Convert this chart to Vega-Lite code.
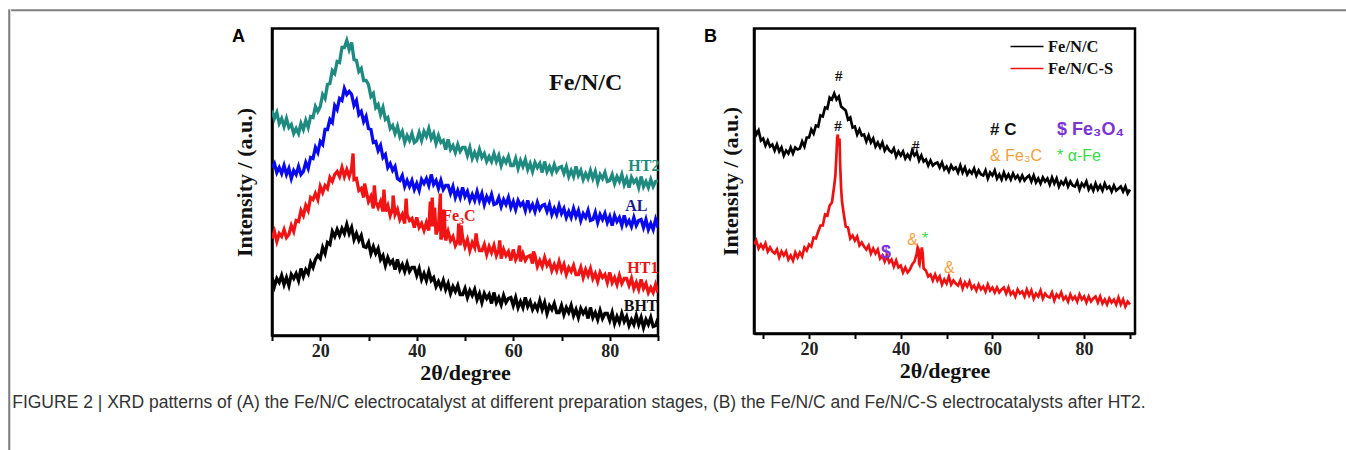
{
"$schema": "https://vega.github.io/schema/vega-lite/v6.json",
"background": "white",
"padding": {"left": 8, "top": 9, "right": 0, "bottom": 0},
"spacing": 0,
"resolve": {"scale": {"color": "independent"}},
"config": {
  "view": {"stroke": "#000000", "strokeWidth": 2.5},
  "axis": {"grid": false, "domainColor": "#000000", "domainWidth": 2.5, "tickColor": "#000000", "tickWidth": 2, "tickSize": 5,
    "labelFont": "Liberation Serif", "labelFontSize": 18, "labelFontWeight": "bold", "labelColor": "#222222",
    "titleFont": "Liberation Serif", "titleFontSize": 22, "titleFontWeight": "bold", "titleColor": "#111111"},
  "text": {"font": "Liberation Serif", "fontWeight": "bold", "baseline": "middle"}
},
"datasets": {
"A": [
{"x":10,"HT2":225,"AL":168,"HT1":97,"BHT":58},
{"x":10.5,"HT2":217,"AL":172,"HT1":104,"BHT":49},
{"x":11,"HT2":223,"AL":163,"HT1":94,"BHT":57},
{"x":11.5,"HT2":212,"AL":168,"HT1":102,"BHT":53},
{"x":12,"HT2":217,"AL":162,"HT1":99,"BHT":60},
{"x":12.5,"HT2":209,"AL":170,"HT1":106,"BHT":51},
{"x":13,"HT2":217,"AL":161,"HT1":98,"BHT":58},
{"x":13.5,"HT2":208,"AL":167,"HT1":101,"BHT":50},
{"x":14,"HT2":211,"AL":157,"HT1":110,"BHT":61},
{"x":14.5,"HT2":202,"AL":165,"HT1":104,"BHT":57},
{"x":15,"HT2":207,"AL":161,"HT1":115,"BHT":62},
{"x":15.5,"HT2":202,"AL":169,"HT1":114,"BHT":55},
{"x":16,"HT2":212,"AL":161,"HT1":125,"BHT":67},
{"x":16.5,"HT2":206,"AL":164,"HT1":120,"BHT":59},
{"x":17,"HT2":215,"AL":173,"HT1":130,"BHT":66},
{"x":17.5,"HT2":208,"AL":167,"HT1":125,"BHT":62},
{"x":18,"HT2":219,"AL":178,"HT1":138,"BHT":73},
{"x":18.5,"HT2":218,"AL":177,"HT1":136,"BHT":68},
{"x":19,"HT2":229,"AL":188,"HT1":142,"BHT":76},
{"x":19.5,"HT2":224,"AL":183,"HT1":136,"BHT":80},
{"x":20,"HT2":229,"AL":194,"HT1":149,"BHT":77},
{"x":20.5,"HT2":241,"AL":191,"HT1":143,"BHT":88},
{"x":21,"HT2":237,"AL":206,"HT1":150,"BHT":82},
{"x":21.5,"HT2":251,"AL":206,"HT1":147,"BHT":93},
{"x":22,"HT2":252,"AL":216,"HT1":158,"BHT":91},
{"x":22.5,"HT2":265,"AL":213,"HT1":154,"BHT":104},
{"x":23,"HT2":262,"AL":230,"HT1":161,"BHT":99},
{"x":23.5,"HT2":274,"AL":226,"HT1":164,"BHT":106},
{"x":24,"HT2":273,"AL":237,"HT1":159,"BHT":100},
{"x":24.5,"HT2":288,"AL":235,"HT1":168,"BHT":107},
{"x":25,"HT2":288,"AL":247,"HT1":159,"BHT":102},
{"x":25.5,"HT2":295,"AL":241,"HT1":166,"BHT":111},
{"x":26,"HT2":286,"AL":244,"HT1":159,"BHT":102},
{"x":26.5,"HT2":293,"AL":241,"HT1":167,"BHT":108},
{"x":27,"HT2":276,"AL":230,"HT1":156,"BHT":96},
{"x":27.5,"HT2":275,"AL":235,"HT1":157,"BHT":102},
{"x":28,"HT2":264,"AL":221,"HT1":145,"BHT":95},
{"x":28.5,"HT2":267,"AL":224,"HT1":147,"BHT":100},
{"x":29,"HT2":255,"AL":214,"HT1":138,"BHT":89},
{"x":29.5,"HT2":255,"AL":219,"HT1":145,"BHT":88},
{"x":30,"HT2":251,"AL":207,"HT1":134,"BHT":93},
{"x":30.5,"HT2":239,"AL":206,"HT1":139,"BHT":82},
{"x":31,"HT2":242,"AL":193,"HT1":127,"BHT":89},
{"x":31.5,"HT2":228,"AL":194,"HT1":134,"BHT":82},
{"x":32,"HT2":231,"AL":185,"HT1":128,"BHT":87},
{"x":32.5,"HT2":221,"AL":190,"HT1":134,"BHT":76},
{"x":33,"HT2":228,"AL":178,"HT1":124,"BHT":80},
{"x":33.5,"HT2":216,"AL":181,"HT1":124,"BHT":70},
{"x":34,"HT2":218,"AL":168,"HT1":130,"BHT":78},
{"x":34.5,"HT2":207,"AL":172,"HT1":120,"BHT":72},
{"x":35,"HT2":210,"AL":165,"HT1":127,"BHT":75},
{"x":35.5,"HT2":202,"AL":169,"HT1":121,"BHT":66},
{"x":36,"HT2":209,"AL":157,"HT1":126,"BHT":76},
{"x":36.5,"HT2":199,"AL":155,"HT1":116,"BHT":66},
{"x":37,"HT2":204,"AL":160,"HT1":121,"BHT":71},
{"x":37.5,"HT2":193,"AL":149,"HT1":112,"BHT":64},
{"x":38,"HT2":200,"AL":155,"HT1":121,"BHT":72},
{"x":38.5,"HT2":195,"AL":149,"HT1":115,"BHT":64},
{"x":39,"HT2":202,"AL":155,"HT1":117,"BHT":68},
{"x":39.5,"HT2":193,"AL":146,"HT1":108,"BHT":68},
{"x":40,"HT2":195,"AL":152,"HT1":118,"BHT":60},
{"x":40.5,"HT2":203,"AL":145,"HT1":108,"BHT":67},
{"x":41,"HT2":195,"AL":156,"HT1":112,"BHT":56},
{"x":41.5,"HT2":204,"AL":152,"HT1":105,"BHT":62},
{"x":42,"HT2":199,"AL":157,"HT1":113,"BHT":55},
{"x":42.5,"HT2":207,"AL":150,"HT1":105,"BHT":64},
{"x":43,"HT2":197,"AL":161,"HT1":109,"BHT":55},
{"x":43.5,"HT2":202,"AL":151,"HT1":109,"BHT":58},
{"x":44,"HT2":192,"AL":155,"HT1":101,"BHT":49},
{"x":44.5,"HT2":200,"AL":147,"HT1":108,"BHT":54},
{"x":45,"HT2":193,"AL":155,"HT1":96,"BHT":48},
{"x":45.5,"HT2":195,"AL":146,"HT1":102,"BHT":55},
{"x":46,"HT2":186,"AL":150,"HT1":95,"BHT":46},
{"x":46.5,"HT2":196,"AL":150,"HT1":104,"BHT":52},
{"x":47,"HT2":186,"AL":142,"HT1":95,"BHT":42},
{"x":47.5,"HT2":190,"AL":149,"HT1":99,"BHT":49},
{"x":48,"HT2":183,"AL":138,"HT1":90,"BHT":44},
{"x":48.5,"HT2":191,"AL":145,"HT1":95,"BHT":50},
{"x":49,"HT2":184,"AL":138,"HT1":90,"BHT":41},
{"x":49.5,"HT2":188,"AL":148,"HT1":98,"BHT":41},
{"x":50,"HT2":188,"AL":139,"HT1":89,"BHT":47},
{"x":50.5,"HT2":180,"AL":144,"HT1":96,"BHT":38},
{"x":51,"HT2":188,"AL":135,"HT1":85,"BHT":45},
{"x":51.5,"HT2":177,"AL":141,"HT1":93,"BHT":40},
{"x":52,"HT2":183,"AL":135,"HT1":88,"BHT":46},
{"x":52.5,"HT2":177,"AL":144,"HT1":94,"BHT":36},
{"x":53,"HT2":186,"AL":135,"HT1":85,"BHT":42},
{"x":53.5,"HT2":178,"AL":142,"HT1":85,"BHT":33},
{"x":54,"HT2":182,"AL":131,"HT1":91,"BHT":42},
{"x":54.5,"HT2":174,"AL":139,"HT1":81,"BHT":37},
{"x":55,"HT2":179,"AL":134,"HT1":89,"BHT":41},
{"x":55.5,"HT2":174,"AL":141,"HT1":83,"BHT":32},
{"x":56,"HT2":182,"AL":131,"HT1":90,"BHT":43},
{"x":56.5,"HT2":174,"AL":132,"HT1":80,"BHT":33},
{"x":57,"HT2":180,"AL":138,"HT1":86,"BHT":38},
{"x":57.5,"HT2":170,"AL":129,"HT1":77,"BHT":31},
{"x":58,"HT2":177,"AL":136,"HT1":86,"BHT":40},
{"x":58.5,"HT2":173,"AL":131,"HT1":80,"BHT":33},
{"x":59,"HT2":179,"AL":138,"HT1":84,"BHT":37},
{"x":59.5,"HT2":170,"AL":128,"HT1":75,"BHT":38},
{"x":60,"HT2":170,"AL":134,"HT1":86,"BHT":30},
{"x":60.5,"HT2":177,"AL":126,"HT1":76,"BHT":38},
{"x":61,"HT2":167,"AL":135,"HT1":81,"BHT":28},
{"x":61.5,"HT2":175,"AL":130,"HT1":74,"BHT":34},
{"x":62,"HT2":169,"AL":133,"HT1":82,"BHT":28},
{"x":62.5,"HT2":176,"AL":125,"HT1":75,"BHT":38},
{"x":63,"HT2":166,"AL":135,"HT1":79,"BHT":29},
{"x":63.5,"HT2":172,"AL":126,"HT1":80,"BHT":34},
{"x":64,"HT2":164,"AL":131,"HT1":72,"BHT":26},
{"x":64.5,"HT2":173,"AL":124,"HT1":80,"BHT":31},
{"x":65,"HT2":168,"AL":133,"HT1":69,"BHT":26},
{"x":65.5,"HT2":172,"AL":126,"HT1":75,"BHT":35},
{"x":66,"HT2":163,"AL":130,"HT1":69,"BHT":26},
{"x":66.5,"HT2":174,"AL":131,"HT1":78,"BHT":33},
{"x":67,"HT2":164,"AL":124,"HT1":70,"BHT":22},
{"x":67.5,"HT2":169,"AL":131,"HT1":74,"BHT":30},
{"x":68,"HT2":163,"AL":121,"HT1":65,"BHT":26},
{"x":68.5,"HT2":171,"AL":127,"HT1":71,"BHT":32},
{"x":69,"HT2":164,"AL":121,"HT1":65,"BHT":23},
{"x":69.5,"HT2":168,"AL":130,"HT1":74,"BHT":23},
{"x":70,"HT2":169,"AL":122,"HT1":65,"BHT":30},
{"x":70.5,"HT2":162,"AL":127,"HT1":71,"BHT":21},
{"x":71,"HT2":169,"AL":118,"HT1":61,"BHT":28},
{"x":71.5,"HT2":159,"AL":124,"HT1":68,"BHT":23},
{"x":72,"HT2":165,"AL":118,"HT1":64,"BHT":30},
{"x":72.5,"HT2":159,"AL":127,"HT1":70,"BHT":20},
{"x":73,"HT2":169,"AL":119,"HT1":61,"BHT":26},
{"x":73.5,"HT2":160,"AL":125,"HT1":61,"BHT":18},
{"x":74,"HT2":165,"AL":115,"HT1":68,"BHT":27},
{"x":74.5,"HT2":156,"AL":122,"HT1":58,"BHT":22},
{"x":75,"HT2":162,"AL":118,"HT1":66,"BHT":26},
{"x":75.5,"HT2":157,"AL":125,"HT1":60,"BHT":17},
{"x":76,"HT2":165,"AL":115,"HT1":67,"BHT":28},
{"x":76.5,"HT2":157,"AL":116,"HT1":57,"BHT":18},
{"x":77,"HT2":164,"AL":123,"HT1":62,"BHT":23},
{"x":77.5,"HT2":153,"AL":113,"HT1":54,"BHT":16},
{"x":78,"HT2":161,"AL":121,"HT1":63,"BHT":25},
{"x":78.5,"HT2":157,"AL":116,"HT1":58,"BHT":17},
{"x":79,"HT2":163,"AL":122,"HT1":61,"BHT":22},
{"x":79.5,"HT2":154,"AL":113,"HT1":53,"BHT":22},
{"x":80,"HT2":155,"AL":119,"HT1":63,"BHT":15},
{"x":80.5,"HT2":161,"AL":110,"HT1":53,"BHT":23},
{"x":81,"HT2":152,"AL":120,"HT1":58,"BHT":12},
{"x":81.5,"HT2":159,"AL":114,"HT1":51,"BHT":19},
{"x":82,"HT2":154,"AL":118,"HT1":60,"BHT":13},
{"x":82.5,"HT2":161,"AL":110,"HT1":52,"BHT":22},
{"x":83,"HT2":151,"AL":120,"HT1":57,"BHT":14},
{"x":83.5,"HT2":157,"AL":111,"HT1":57,"BHT":19},
{"x":84,"HT2":148,"AL":115,"HT1":50,"BHT":10},
{"x":84.5,"HT2":158,"AL":109,"HT1":57,"BHT":16},
{"x":85,"HT2":153,"AL":118,"HT1":47,"BHT":11},
{"x":85.5,"HT2":156,"AL":110,"HT1":53,"BHT":20},
{"x":86,"HT2":148,"AL":115,"HT1":46,"BHT":11},
{"x":86.5,"HT2":159,"AL":116,"HT1":56,"BHT":18},
{"x":87,"HT2":149,"AL":108,"HT1":47,"BHT":8},
{"x":87.5,"HT2":154,"AL":116,"HT1":52,"BHT":16},
{"x":88,"HT2":148,"AL":106,"HT1":43,"BHT":11},
{"x":88.5,"HT2":156,"AL":112,"HT1":48,"BHT":18},
{"x":89,"HT2":149,"AL":106,"HT1":43,"BHT":9},
{"x":89.5,"HT2":154,"AL":116,"HT1":51,"BHT":10},
{"x":90,"HT2":155,"AL":108,"HT1":43,"BHT":17},
{"x":26.8,"HT1":182},{"x":29.2,"HT1":152},{"x":31.2,"HT1":150},{"x":33.2,"HT1":146},
{"x":35.1,"HT1":140},{"x":37.8,"HT1":137},{"x":42.8,"HT1":134},{"x":43.2,"HT1":138},
{"x":43.7,"HT1":128},{"x":44.9,"HT1":142},{"x":45.6,"HT1":126},{"x":48.7,"HT1":112},
{"x":49.2,"HT1":110},{"x":52.3,"HT1":102},{"x":57.2,"HT1":95},{"x":61.3,"HT1":90},{"x":64.2,"HT1":84}
],
"B": [
{"x":8,"Fe/N/C":207,"Fe/N/C-S":89},
{"x":8.5,"Fe/N/C":199,"Fe/N/C-S":93},
{"x":9,"Fe/N/C":203,"Fe/N/C-S":85},
{"x":9.5,"Fe/N/C":193,"Fe/N/C-S":89},
{"x":10,"Fe/N/C":195,"Fe/N/C-S":85},
{"x":10.5,"Fe/N/C":188,"Fe/N/C-S":90},
{"x":11,"Fe/N/C":193,"Fe/N/C-S":82},
{"x":11.5,"Fe/N/C":187,"Fe/N/C-S":86},
{"x":12,"Fe/N/C":189,"Fe/N/C-S":82},
{"x":12.5,"Fe/N/C":183,"Fe/N/C-S":80},
{"x":13,"Fe/N/C":189,"Fe/N/C-S":84},
{"x":13.5,"Fe/N/C":182,"Fe/N/C-S":76},
{"x":14,"Fe/N/C":186,"Fe/N/C-S":82},
{"x":14.5,"Fe/N/C":178,"Fe/N/C-S":78},
{"x":15,"Fe/N/C":183,"Fe/N/C-S":82},
{"x":15.5,"Fe/N/C":180,"Fe/N/C-S":74},
{"x":16,"Fe/N/C":186,"Fe/N/C-S":78},
{"x":16.5,"Fe/N/C":180,"Fe/N/C-S":73},
{"x":17,"Fe/N/C":186,"Fe/N/C-S":81},
{"x":17.5,"Fe/N/C":184,"Fe/N/C-S":76},
{"x":18,"Fe/N/C":185,"Fe/N/C-S":81},
{"x":18.5,"Fe/N/C":192,"Fe/N/C-S":77},
{"x":19,"Fe/N/C":187,"Fe/N/C-S":86},
{"x":19.5,"Fe/N/C":196,"Fe/N/C-S":83},
{"x":20,"Fe/N/C":196,"Fe/N/C-S":89},
{"x":20.5,"Fe/N/C":204,"Fe/N/C-S":87},
{"x":21,"Fe/N/C":200,"Fe/N/C-S":96},
{"x":21.5,"Fe/N/C":208,"Fe/N/C-S":95},
{"x":22,"Fe/N/C":207,"Fe/N/C-S":102},
{"x":22.5,"Fe/N/C":218,"Fe/N/C-S":108},
{"x":23,"Fe/N/C":217,"Fe/N/C-S":108},
{"x":23.5,"Fe/N/C":226,"Fe/N/C-S":119},
{"x":24,"Fe/N/C":225,"Fe/N/C-S":118},
{"x":24.5,"Fe/N/C":236,"Fe/N/C-S":128},
{"x":25,"Fe/N/C":234,"Fe/N/C-S":131},
{"x":25.5,"Fe/N/C":240,"Fe/N/C-S":148},
{"x":26,"Fe/N/C":234,"Fe/N/C-S":180},
{"x":26.5,"Fe/N/C":237,"Fe/N/C-S":192},
{"x":27,"Fe/N/C":227,"Fe/N/C-S":145},
{"x":27.5,"Fe/N/C":225,"Fe/N/C-S":122},
{"x":28,"Fe/N/C":223,"Fe/N/C-S":107},
{"x":28.5,"Fe/N/C":214,"Fe/N/C-S":106},
{"x":29,"Fe/N/C":216,"Fe/N/C-S":95},
{"x":29.5,"Fe/N/C":206,"Fe/N/C-S":98},
{"x":30,"Fe/N/C":207,"Fe/N/C-S":93},
{"x":30.5,"Fe/N/C":199,"Fe/N/C-S":97},
{"x":31,"Fe/N/C":204,"Fe/N/C-S":88},
{"x":31.5,"Fe/N/C":198,"Fe/N/C-S":91},
{"x":32,"Fe/N/C":199,"Fe/N/C-S":87},
{"x":32.5,"Fe/N/C":192,"Fe/N/C-S":84},
{"x":33,"Fe/N/C":198,"Fe/N/C-S":88},
{"x":33.5,"Fe/N/C":191,"Fe/N/C-S":80},
{"x":34,"Fe/N/C":195,"Fe/N/C-S":85},
{"x":34.5,"Fe/N/C":187,"Fe/N/C-S":80},
{"x":35,"Fe/N/C":191,"Fe/N/C-S":84},
{"x":35.5,"Fe/N/C":186,"Fe/N/C-S":75},
{"x":36,"Fe/N/C":191,"Fe/N/C-S":78},
{"x":36.5,"Fe/N/C":183,"Fe/N/C-S":72},
{"x":37,"Fe/N/C":187,"Fe/N/C-S":78},
{"x":37.5,"Fe/N/C":183,"Fe/N/C-S":71},
{"x":38,"Fe/N/C":181,"Fe/N/C-S":74},
{"x":38.5,"Fe/N/C":185,"Fe/N/C-S":67},
{"x":39,"Fe/N/C":177,"Fe/N/C-S":73},
{"x":39.5,"Fe/N/C":182,"Fe/N/C-S":66},
{"x":40,"Fe/N/C":178,"Fe/N/C-S":68},
{"x":40.5,"Fe/N/C":182,"Fe/N/C-S":61},
{"x":41,"Fe/N/C":175,"Fe/N/C-S":66},
{"x":41.5,"Fe/N/C":179,"Fe/N/C-S":61},
{"x":42,"Fe/N/C":175,"Fe/N/C-S":64},
{"x":42.5,"Fe/N/C":183,"Fe/N/C-S":69},
{"x":43,"Fe/N/C":178,"Fe/N/C-S":72},
{"x":43.5,"Fe/N/C":181,"Fe/N/C-S":80},
{"x":44,"Fe/N/C":173,"Fe/N/C-S":70},
{"x":44.5,"Fe/N/C":178,"Fe/N/C-S":82},
{"x":45,"Fe/N/C":172,"Fe/N/C-S":65},
{"x":45.5,"Fe/N/C":174,"Fe/N/C-S":63},
{"x":46,"Fe/N/C":168,"Fe/N/C-S":57},
{"x":46.5,"Fe/N/C":173,"Fe/N/C-S":59},
{"x":47,"Fe/N/C":168,"Fe/N/C-S":53},
{"x":47.5,"Fe/N/C":170,"Fe/N/C-S":59},
{"x":48,"Fe/N/C":171,"Fe/N/C-S":53},
{"x":48.5,"Fe/N/C":166,"Fe/N/C-S":57},
{"x":49,"Fe/N/C":171,"Fe/N/C-S":49},
{"x":49.5,"Fe/N/C":164,"Fe/N/C-S":54},
{"x":50,"Fe/N/C":167,"Fe/N/C-S":50},
{"x":50.5,"Fe/N/C":162,"Fe/N/C-S":57},
{"x":51,"Fe/N/C":168,"Fe/N/C-S":49},
{"x":51.5,"Fe/N/C":164,"Fe/N/C-S":53},
{"x":52,"Fe/N/C":166,"Fe/N/C-S":50},
{"x":52.5,"Fe/N/C":161,"Fe/N/C-S":48},
{"x":53,"Fe/N/C":168,"Fe/N/C-S":53},
{"x":53.5,"Fe/N/C":161,"Fe/N/C-S":45},
{"x":54,"Fe/N/C":166,"Fe/N/C-S":51},
{"x":54.5,"Fe/N/C":159,"Fe/N/C-S":47},
{"x":55,"Fe/N/C":163,"Fe/N/C-S":52},
{"x":55.5,"Fe/N/C":160,"Fe/N/C-S":45},
{"x":56,"Fe/N/C":165,"Fe/N/C-S":48},
{"x":56.5,"Fe/N/C":158,"Fe/N/C-S":43},
{"x":57,"Fe/N/C":163,"Fe/N/C-S":49},
{"x":57.5,"Fe/N/C":159,"Fe/N/C-S":44},
{"x":58,"Fe/N/C":158,"Fe/N/C-S":47},
{"x":58.5,"Fe/N/C":163,"Fe/N/C-S":42},
{"x":59,"Fe/N/C":155,"Fe/N/C-S":49},
{"x":59.5,"Fe/N/C":161,"Fe/N/C-S":43},
{"x":60,"Fe/N/C":158,"Fe/N/C-S":46},
{"x":60.5,"Fe/N/C":163,"Fe/N/C-S":41},
{"x":61,"Fe/N/C":155,"Fe/N/C-S":46},
{"x":61.5,"Fe/N/C":159,"Fe/N/C-S":41},
{"x":62,"Fe/N/C":154,"Fe/N/C-S":44},
{"x":62.5,"Fe/N/C":161,"Fe/N/C-S":46},
{"x":63,"Fe/N/C":155,"Fe/N/C-S":40},
{"x":63.5,"Fe/N/C":159,"Fe/N/C-S":46},
{"x":64,"Fe/N/C":154,"Fe/N/C-S":39},
{"x":64.5,"Fe/N/C":160,"Fe/N/C-S":42},
{"x":65,"Fe/N/C":155,"Fe/N/C-S":37},
{"x":65.5,"Fe/N/C":158,"Fe/N/C-S":44},
{"x":66,"Fe/N/C":153,"Fe/N/C-S":40},
{"x":66.5,"Fe/N/C":158,"Fe/N/C-S":42},
{"x":67,"Fe/N/C":153,"Fe/N/C-S":37},
{"x":67.5,"Fe/N/C":156,"Fe/N/C-S":44},
{"x":68,"Fe/N/C":158,"Fe/N/C-S":38},
{"x":68.5,"Fe/N/C":152,"Fe/N/C-S":43},
{"x":69,"Fe/N/C":158,"Fe/N/C-S":35},
{"x":69.5,"Fe/N/C":151,"Fe/N/C-S":40},
{"x":70,"Fe/N/C":155,"Fe/N/C-S":37},
{"x":70.5,"Fe/N/C":150,"Fe/N/C-S":43},
{"x":71,"Fe/N/C":156,"Fe/N/C-S":35},
{"x":71.5,"Fe/N/C":152,"Fe/N/C-S":40},
{"x":72,"Fe/N/C":155,"Fe/N/C-S":37},
{"x":72.5,"Fe/N/C":149,"Fe/N/C-S":36},
{"x":73,"Fe/N/C":156,"Fe/N/C-S":41},
{"x":73.5,"Fe/N/C":150,"Fe/N/C-S":33},
{"x":74,"Fe/N/C":155,"Fe/N/C-S":39},
{"x":74.5,"Fe/N/C":147,"Fe/N/C-S":36},
{"x":75,"Fe/N/C":152,"Fe/N/C-S":41},
{"x":75.5,"Fe/N/C":149,"Fe/N/C-S":34},
{"x":76,"Fe/N/C":154,"Fe/N/C-S":37},
{"x":76.5,"Fe/N/C":147,"Fe/N/C-S":32},
{"x":77,"Fe/N/C":152,"Fe/N/C-S":39},
{"x":77.5,"Fe/N/C":148,"Fe/N/C-S":34},
{"x":78,"Fe/N/C":147,"Fe/N/C-S":37},
{"x":78.5,"Fe/N/C":152,"Fe/N/C-S":32},
{"x":79,"Fe/N/C":144,"Fe/N/C-S":39},
{"x":79.5,"Fe/N/C":150,"Fe/N/C-S":34},
{"x":80,"Fe/N/C":147,"Fe/N/C-S":37},
{"x":80.5,"Fe/N/C":152,"Fe/N/C-S":31},
{"x":81,"Fe/N/C":144,"Fe/N/C-S":37},
{"x":81.5,"Fe/N/C":148,"Fe/N/C-S":32},
{"x":82,"Fe/N/C":143,"Fe/N/C-S":35},
{"x":82.5,"Fe/N/C":150,"Fe/N/C-S":37},
{"x":83,"Fe/N/C":144,"Fe/N/C-S":31},
{"x":83.5,"Fe/N/C":148,"Fe/N/C-S":37},
{"x":84,"Fe/N/C":143,"Fe/N/C-S":30},
{"x":84.5,"Fe/N/C":150,"Fe/N/C-S":34},
{"x":85,"Fe/N/C":145,"Fe/N/C-S":29},
{"x":85.5,"Fe/N/C":147,"Fe/N/C-S":35},
{"x":86,"Fe/N/C":142,"Fe/N/C-S":31},
{"x":86.5,"Fe/N/C":148,"Fe/N/C-S":34},
{"x":87,"Fe/N/C":143,"Fe/N/C-S":29},
{"x":87.5,"Fe/N/C":145,"Fe/N/C-S":36},
{"x":88,"Fe/N/C":147,"Fe/N/C-S":29},
{"x":88.5,"Fe/N/C":142,"Fe/N/C-S":34},
{"x":89,"Fe/N/C":147,"Fe/N/C-S":27},
{"x":89.5,"Fe/N/C":140,"Fe/N/C-S":32},
{"x":90,"Fe/N/C":144,"Fe/N/C-S":29},
{"x":25.75,"Fe/N/C-S":158},{"x":26.15,"Fe/N/C-S":196},{"x":26.3,"Fe/N/C-S":199},{"x":26.4,"Fe/N/C-S":188},
{"x":26.65,"Fe/N/C-S":195},{"x":26.8,"Fe/N/C-S":168},{"x":27.2,"Fe/N/C-S":132},{"x":43.7,"Fe/N/C-S":86},
{"x":43.9,"Fe/N/C-S":84},{"x":44.1,"Fe/N/C-S":69},{"x":44.6,"Fe/N/C-S":86},{"x":44.8,"Fe/N/C-S":80}
]
},
"hconcat": [
{
  "width": 0.5, "height": 445,
  "view": {"stroke": "#7f7f7f", "strokeWidth": 1.6},
  "data": {"values": []},
  "mark": "rule",
  "encoding": {}
},
{
  "spacing": 13.5,
  "resolve": {"scale": {"color": "independent"}},
  "title": {"text": "FIGURE 2 | XRD patterns of (A) the Fe/N/C electrocatalyst at different preparation stages, (B) the Fe/N/C and Fe/N/C-S electrocatalysts after HT2.", "orient": "bottom", "anchor": "start", "dx": 1, "offset": 9, "font": "Liberation Sans", "fontSize": 17.5, "fontWeight": "normal", "color": "#333333"},
  "vconcat": [
  {
    "width": 1337, "height": 0.5,
    "view": {"stroke": "#7f7f7f", "strokeWidth": 1.6},
    "data": {"values": []},
    "mark": "rule",
    "encoding": {}
  },
  {
  "spacing": 41,
  "resolve": {"scale": {"color": "independent"}},
  "hconcat": [
  {
    "width": 177, "height": 10,
    "view": {"stroke": null},
    "data": {"values": []},
    "mark": "rule",
    "encoding": {}
  },
  {
    "width": 386, "height": 307,
    "title": {"text": "A", "anchor": "start", "orient": "top", "offset": 0, "dx": -1, "dy": 17, "font": "Liberation Sans", "fontSize": 18, "fontWeight": "bold", "color": "#000000"},
    "encoding": {
      "x": {"field": "x", "type": "quantitative", "scale": {"domain": [10, 90], "nice": false, "zero": false},
        "axis": {"title": "2θ/degree", "values": [10,20,30,40,50,60,70,80,90], "labelExpr": "datum.value % 20 == 0 ? datum.label : ''", "labelPadding": 2, "titlePadding": 2}},
      "y": {"field": "v", "type": "quantitative", "scale": {"domain": [0, 307], "nice": false, "zero": false},
        "axis": {"title": "Intensity / (a.u.)", "labels": false, "ticks": false, "titlePadding": 16}}
    },
    "layer": [
      {"data": {"name": "A"},
       "transform": [{"fold": ["HT2", "AL", "HT1", "BHT"], "as": ["s", "v"]}, {"filter": "isValid(datum.v)"}],
       "mark": {"type": "line", "strokeWidth": 3.3, "strokeJoin": "miter", "clip": true},
       "encoding": {"color": {"field": "s", "type": "nominal", "scale": {"domain": ["HT2", "AL", "HT1", "BHT"], "range": ["#1f8a80", "#0a0af0", "#f01414", "#000000"]}, "legend": null}}},
      {"data": {"values": [{"x": 75, "v": 253, "t": "Fe/N/C"}]},
       "mark": {"type": "text", "fontSize": 24, "color": "#111111", "align": "center"},
       "encoding": {"text": {"field": "t"}}},
      {"data": {"values": [{"x": 90.3, "v": 170, "t": "HT2"}]},
       "mark": {"type": "text", "fontSize": 16, "color": "#1f8a80", "align": "right"},
       "encoding": {"text": {"field": "t"}}},
      {"data": {"values": [{"x": 87.8, "v": 130, "t": "AL"}]},
       "mark": {"type": "text", "fontSize": 16, "color": "#1a1a8c", "align": "right"},
       "encoding": {"text": {"field": "t"}}},
      {"data": {"values": [{"x": 90.1, "v": 68, "t": "HT1"}, {"x": 45.3, "v": 120, "t": "Fe₃C"}]},
       "mark": {"type": "text", "fontSize": 16, "color": "#e81414", "align": {"expr": "datum.t == 'HT1' ? 'right' : 'left'"}},
       "encoding": {"text": {"field": "t"}}},
      {"data": {"values": [{"x": 89.9, "v": 30, "t": "BHT"}]},
       "mark": {"type": "text", "fontSize": 16, "color": "#111111", "align": "right"},
       "encoding": {"text": {"field": "t"}}}
    ]
  },
  {
    "width": 381, "height": 305,
    "title": {"text": "B", "anchor": "start", "orient": "top", "offset": 0, "dx": -15, "dy": 17, "font": "Liberation Sans", "fontSize": 18, "fontWeight": "bold", "color": "#000000"},
    "encoding": {
      "x": {"field": "x", "type": "quantitative", "scale": {"domain": [8, 91.1], "nice": false, "zero": false},
        "axis": {"title": "2θ/degree", "values": [10,20,30,40,50,60,70,80,90], "labelExpr": "datum.value % 20 == 0 ? datum.label : ''", "labelPadding": 2, "titlePadding": 2}},
      "y": {"field": "v", "type": "quantitative", "scale": {"domain": [0, 305], "nice": false, "zero": false},
        "axis": {"title": "Intensity / (a.u.)", "labels": false, "ticks": false, "titlePadding": 12}}
    },
    "layer": [
      {"data": {"name": "B"},
       "transform": [{"fold": ["Fe/N/C", "Fe/N/C-S"], "as": ["s", "v"]}, {"filter": "isValid(datum.v)"}],
       "mark": {"type": "line", "strokeWidth": 2.7, "strokeJoin": "miter", "clip": true},
       "encoding": {"color": {"field": "s", "type": "nominal", "scale": {"domain": ["Fe/N/C", "Fe/N/C-S"], "range": ["#000000", "#ee1111"]},
         "legend": {"title": null, "orient": "none", "legendX": 260, "legendY": 5, "padding": 0, "symbolType": "M-1.4,0H1.4", "symbolSize": 556, "symbolStrokeWidth": 1.5, "labelFont": "Liberation Serif", "labelFontWeight": "bold", "labelFontSize": 16.5, "labelColor": "#111111", "rowPadding": 0, "labelOffset": 8}}}},
      {"data": {"values": [{"x": 26.5, "v": 258, "t": "#"}, {"x": 26.3, "v": 208, "t": "#"}, {"x": 43.3, "v": 188, "t": "#"}]},
       "mark": {"type": "text", "fontSize": 15, "color": "#111111", "align": "center"},
       "encoding": {"text": {"field": "t"}}},
      {"data": {"values": [{"x": 59.5, "v": 204, "t": "# C"}]},
       "mark": {"type": "text", "font": "Liberation Sans", "fontSize": 17, "color": "#111111", "align": "left"},
       "encoding": {"text": {"field": "t"}}},
      {"data": {"values": [{"x": 74.1, "v": 204, "t": "$ Fe₃O₄"}, {"x": 36.8, "v": 81, "t": "$"}]},
       "mark": {"type": "text", "font": "Liberation Sans", "fontSize": 18, "color": "#7b33d6", "align": {"expr": "datum.t == '$' ? 'center' : 'left'"}},
       "encoding": {"text": {"field": "t"}}},
      {"data": {"values": [{"x": 59.5, "v": 178, "t": "& Fe₃C"}, {"x": 42.6, "v": 94, "t": "&"}, {"x": 50.6, "v": 66, "t": "&"}]},
       "mark": {"type": "text", "font": "Liberation Sans", "fontSize": 16, "fontWeight": "normal", "color": "#f2a03c", "align": {"expr": "datum.t == '&' ? 'center' : 'left'"}},
       "encoding": {"text": {"field": "t"}}},
      {"data": {"values": [{"x": 74.1, "v": 178, "t": "* α-Fe"}, {"x": 45.3, "v": 95, "t": "*"}]},
       "mark": {"type": "text", "font": "Liberation Sans", "fontSize": 16, "fontWeight": "normal", "color": "#33dd44", "align": {"expr": "datum.t == '*' ? 'center' : 'left'"}},
       "encoding": {"text": {"field": "t"}}}
    ]
  }
  ]
  }
  ]
}
]
}
